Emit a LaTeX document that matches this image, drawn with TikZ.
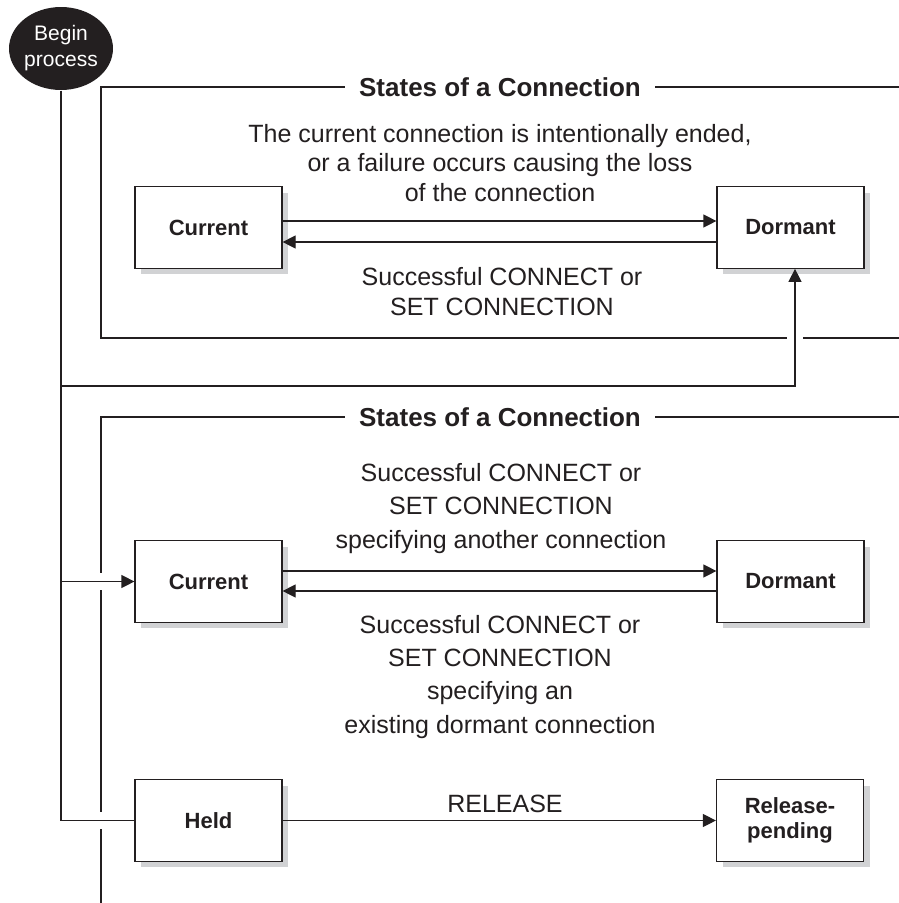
\documentclass[tikz,border=0pt]{standalone}
\usepackage{fontspec}
\setmainfont{Liberation Sans}
\usetikzlibrary{arrows.meta,shadows,shapes.geometric}
\definecolor{ink}{HTML}{231F20}
\definecolor{shade}{HTML}{D1D2D4}
\begin{document}
\begin{tikzpicture}[x=1pt,y=-1pt,line width=1.2pt,color=ink,
  statebox/.style={draw=ink,fill=white,minimum width=147pt,minimum height=81.5pt,inner sep=0pt,
    font=\fontsize{22}{25}\selectfont\bfseries,align=center,
    drop shadow={shadow xshift=6pt,shadow yshift=-6pt,fill=shade,draw=none,opacity=1}},
  beginnode/.style={ellipse,fill=ink,text=white,minimum width=103pt,minimum height=83pt,inner sep=0pt,
    font=\fontsize{21}{26}\selectfont,align=center},
  lbl/.style={font=\fontsize{25}{30}\selectfont,align=center,anchor=base,inner sep=0pt},
  ttl/.style={font=\fontsize{26}{30}\selectfont\bfseries,anchor=base,inner xsep=14pt,inner ysep=0pt},
  arr/.style={-{Triangle[length=13pt,width=13pt]}}]
\fill[white] (0,0) rectangle (899,903);
\useasboundingbox (0,0) rectangle (899,903);

% nodes
\node[beginnode] (begin) at (61,48.5) {Begin\\process};
\node[statebox] (cur1) at (208.5,227.5) {Current};
\node[statebox] (dor1) at (790.5,227.5) {Dormant};
\node[statebox] (cur2) at (208.5,581.5) {Current};
\node[statebox] (dor2) at (790.5,581.5) {Dormant};
\node[statebox] (held) at (208.5,820.5) {Held};
\node[statebox] (rel) at (790,820.5) {Release-\\pending};

\node[ttl] (t1) at (500,96) {States of a Connection};
\node[ttl] (t2) at (500,426.5) {States of a Connection};

% (base anchor of a multi-line node = baseline of its last line)
\node[lbl,font=\fontsize{25}{29.5}\selectfont] (l1) at (500,201)
  {The current connection is intentionally ended,\\or a failure occurs causing the loss\\of the connection};
\node[lbl] (l2) at (502,315) {Successful CONNECT or\\SET CONNECTION};
\node[lbl,font=\fontsize{25}{33.3}\selectfont] (l3) at (501,548)
  {Successful CONNECT or\\SET CONNECTION\\specifying another connection};
\node[lbl,font=\fontsize{25}{33.3}\selectfont] (l4) at (500,733)
  {Successful CONNECT or\\SET CONNECTION\\specifying an\\existing dormant connection};
\node[lbl] (l5) at (505,812) {RELEASE};

% frame 1
\coordinate (f1tl) at (101,87);
\coordinate (f1bl) at (101,338);
\coordinate (f1br) at (899,338);
\coordinate (f1tr) at (899,87);
\coordinate (up) at ([xshift=4.5pt]dor1.south);
\coordinate (gapl) at (up |- f1bl);
\draw (t1.west |- f1tl) -- (f1tl) -- (f1bl) -- ([xshift=-8pt]gapl);
\draw ([xshift=8pt]gapl) -- (f1br);
\draw (t1.east |- f1tl) -- (f1tr);

% frame 2
\coordinate (f2tl) at (101,417);
\coordinate (f2tr) at (899,417);
\coordinate (f2b) at (101,903);
\coordinate (g1) at (f2tl |- cur2.west);
\coordinate (g2) at (f2tl |- held.west);
\draw (t2.west |- f2tl) -- (f2tl) -- ([yshift=8.5pt]g1);
\draw ([yshift=-8.5pt]g1) -- ([yshift=8.5pt]g2);
\draw ([yshift=-8.5pt]g2) -- (f2b);
\draw (t2.east |- f2tl) -- (f2tr);

% main process line
\coordinate (jy) at (0,386);
\draw (begin.south) -- (begin.south |- held.west) -- (held.west);
\draw[arr] (begin.south |- jy) -| (up);
\draw[arr] (begin.south |- cur2.west) -- (cur2.west);

% transitions
\draw[arr] ([yshift=6.5pt]cur1.east) -- ([yshift=6.5pt]dor1.west);
\draw[arr] ([yshift=-14.5pt]dor1.west) -- ([yshift=-14.5pt]cur1.east);
\draw[arr] ([yshift=10.5pt]cur2.east) -- ([yshift=10.5pt]dor2.west);
\draw[arr] ([yshift=-9.5pt]dor2.west) -- ([yshift=-9.5pt]cur2.east);
\draw[arr] (held.east) -- (rel.west);
\end{tikzpicture}
\end{document}
